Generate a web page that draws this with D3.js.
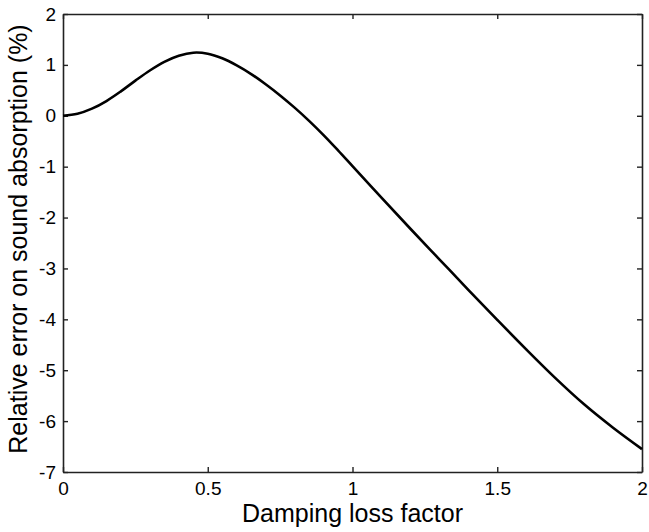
<!DOCTYPE html>
<html>
<head>
<meta charset="utf-8">
<script src="https://cdn.jsdelivr.net/npm/d3@7"></script>
<style>
  html, body { margin: 0; padding: 0; background: #fff; }
  text { font-family: "Liberation Sans", Arial, sans-serif; fill: #000; }
</style>
</head>
<body>
<svg id="chart" width="649" height="532"></svg>
<script>
// damping loss factor vs relative error (%)
const lossFactor = [0, 0.05, 0.1, 0.15, 0.2, 0.25, 0.3, 0.35, 0.4, 0.45, 0.5, 0.55, 0.6, 0.65, 0.7, 0.75, 0.8, 0.85, 0.9, 0.95, 1.0, 1.1, 1.2, 1.3, 1.4, 1.5, 1.6, 1.7, 1.8, 1.9, 2.0]
const relError = [0, 0.04, 0.14, 0.29, 0.48, 0.69, 0.89, 1.06, 1.18, 1.24, 1.22, 1.13, 0.99, 0.82, 0.62, 0.4, 0.16, -0.1, -0.38, -0.68, -0.99, -1.61, -2.22, -2.82, -3.42, -4.01, -4.59, -5.15, -5.67, -6.13, -6.55]
const xTicks = [0, 0.5, 1, 1.5, 2]
const yTicks = [-7, -6, -5, -4, -3, -2, -1, 0, 1, 2]

const margin = { left: 63, top: 14, right: 7, bottom: 60 }
const width = 649, height = 532
const svg = d3.select("#chart")

const x = d3.scaleLinear().domain([0, 2]).range([margin.left, width - margin.right])
const y = d3.scaleLinear().domain([-7, 2]).range([height - margin.bottom, margin.top])

const tickLen = 5
const fmt = d => String(d)

// bottom axis
svg.append("g")
  .attr("transform", `translate(0,${y(-7)})`)
  .call(d3.axisBottom(x).tickValues(xTicks).tickFormat(fmt).tickSizeInner(-tickLen).tickSizeOuter(0).tickPadding(10))
// top axis (ticks only)
svg.append("g")
  .attr("transform", `translate(0,${y(2)})`)
  .call(d3.axisTop(x).tickValues(xTicks).tickFormat("").tickSizeInner(-tickLen).tickSizeOuter(0))
// left axis
svg.append("g")
  .attr("transform", `translate(${x(0)},0)`)
  .call(d3.axisLeft(y).tickValues(yTicks).tickFormat(fmt).tickSizeInner(-tickLen).tickSizeOuter(0).tickPadding(7))
// right axis (ticks only)
svg.append("g")
  .attr("transform", `translate(${x(2)},0)`)
  .call(d3.axisRight(y).tickValues(yTicks).tickFormat("").tickSizeInner(-tickLen).tickSizeOuter(0))

svg.selectAll(".domain").attr("stroke", "#222").attr("stroke-width", 1.6)
svg.selectAll(".tick line").attr("stroke", "#222").attr("stroke-width", 1.4)
svg.selectAll(".tick text")
  .style("font-family", "'Liberation Sans', Arial, sans-serif")
  .style("font-size", "19px")
  .attr("fill", "#000")

// curve
const line = d3.line()
  .x((d, i) => x(lossFactor[i]))
  .y(d => y(d))
  .curve(d3.curveCatmullRom.alpha(0.5))

svg.append("path")
  .datum(relError)
  .attr("d", line)
  .attr("fill", "none")
  .attr("stroke", "#000")
  .attr("stroke-width", 2.6)

// axis labels
svg.append("text")
  .attr("x", (x(0) + x(2)) / 2)
  .attr("y", 522)
  .attr("text-anchor", "middle")
  .style("font-size", "25px")
  .text("Damping loss factor")

svg.append("text")
  .attr("transform", `translate(27,${(y(-7) + y(2)) / 2 - 4}) rotate(-90)`)
  .attr("text-anchor", "middle")
  .style("font-size", "25px")
  .text("Relative error on sound absorption (%)")
</script>
</body>
</html>
